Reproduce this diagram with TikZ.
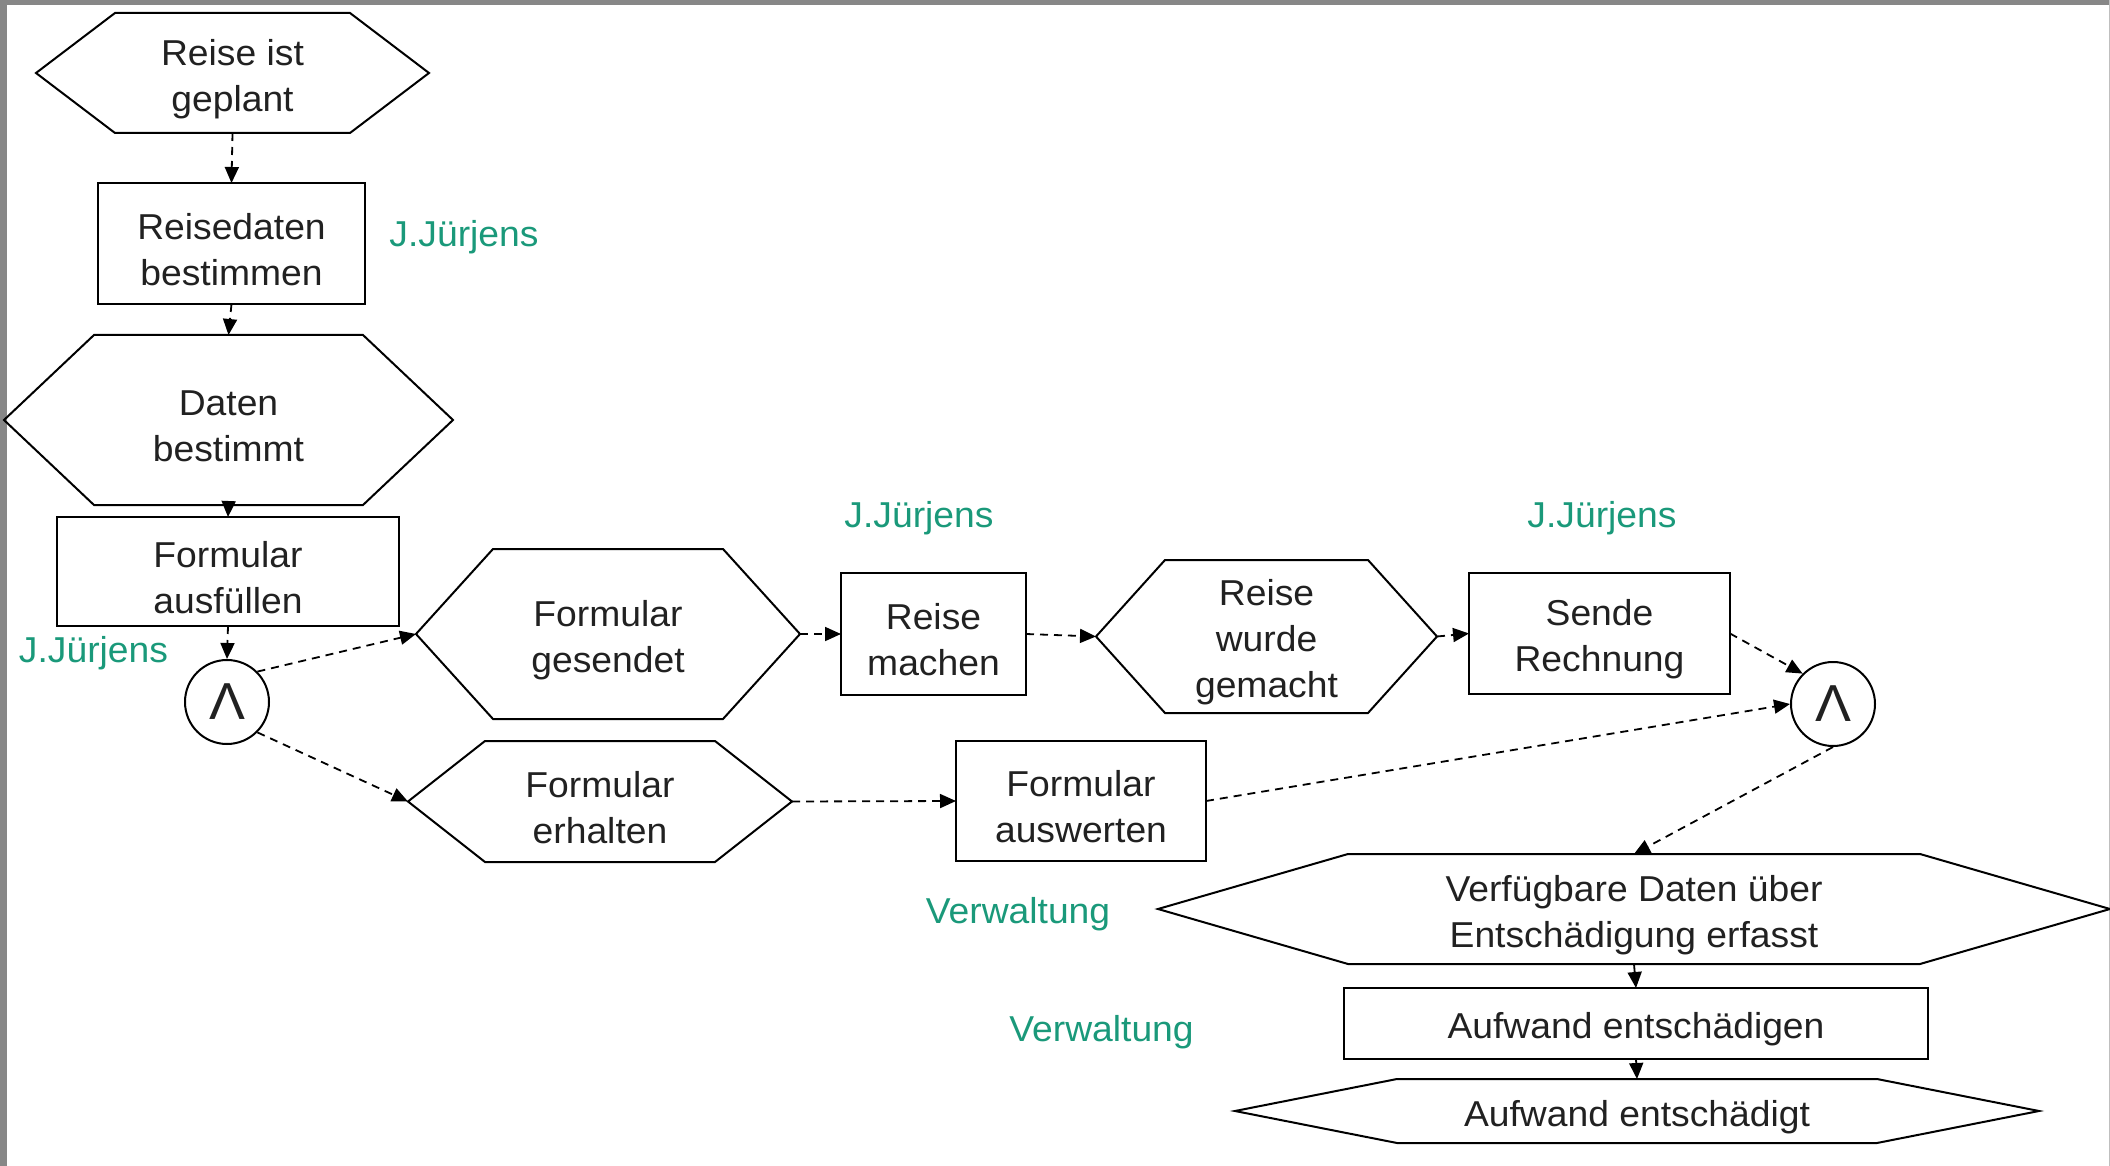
\documentclass[tikz,border=0pt]{standalone}
\usepackage{fontspec}
\setmainfont{Liberation Sans}[FakeStretch=1.035]
\usetikzlibrary{arrows.meta,calc}

\definecolor{jgruen}{RGB}{26,153,122}

% Rahmen eines Ereignisses (Sechseck) um einen benannten Knoten
\newcommand{\ereignisrand}[2]{%
  \draw[ereignisrahmen] ($(#1.north west)+(#2,0)$) -- ($(#1.north east)-(#2,0)$) -- (#1.east)
    -- ($(#1.south east)-(#2,0)$) -- ($(#1.south west)+(#2,0)$) -- (#1.west) -- cycle;}
% hebt die erste Zeile etwas an, damit der Text tiefer sitzt
\newcommand{\zs}{\rule{0pt}{19pt}}

\begin{document}
\begin{tikzpicture}[x=0.5pt,y=-0.5pt,
    every node/.style={font=\fontsize{18}{23}\selectfont, text=black!87},
    ereignisrahmen/.style={line width=1pt, draw=black},
    ereignis/.style={align=center, inner sep=0pt, outer sep=0pt},
    funktion/.style={draw=black, line width=1pt, align=center, inner sep=0pt, outer sep=0pt},
    verknuepfung/.style={circle, draw=black, line width=1pt, minimum size=42pt, inner sep=0pt,
      font=\fontsize{26}{30}\selectfont},
    rolle/.style={text=jgruen},
    fluss/.style={dash pattern=on 4pt off 3pt, line width=0.9pt, -{Triangle[length=8pt,width=7pt]}},
    fest/.style={line width=0.9pt, -{Triangle[length=8pt,width=7pt]}}]
    \useasboundingbox (0,0) rectangle (2110,1166);
    \fill[black!47] (0,0) rectangle (2110,5);
    \fill[black!47] (0,0) rectangle (7,1166);
    \draw[black!25] (2109,0) -- (2109,1166);

    % linke Spalte
    \node[ereignis, minimum width=196.5pt, minimum height=60pt] (geplant) at (232.5,73) {\zs Reise ist\\geplant};
    \ereignisrand{geplant}{79}
    \node[funktion, minimum width=133.5pt, minimum height=60.5pt] (bestimmen) at (231.5,243.5) {\zs Reisedaten\\bestimmen};
    \node[rolle] (rolle1) at (464,237) {J.Jürjens};
    \node[ereignis, minimum width=224.5pt, minimum height=85pt] (daten) at (228.5,420) {\zs Daten\\bestimmt};
    \ereignisrand{daten}{90}
    \node[funktion, minimum width=171pt, minimum height=54.5pt] (ausfuellen) at (228,571.5) {\zs Formular\\ausfüllen};
    \node[rolle] (rolle2) at (93.5,653) {J.Jürjens};
    \node[verknuepfung] (und1) at (227,702) {Λ};

    % oberer Zweig
    \node[ereignis, minimum width=192pt, minimum height=85pt] (gesendet) at (608,634) {\zs Formular\\gesendet};
    \ereignisrand{gesendet}{77}
    \node[funktion, minimum width=92.5pt, minimum height=61pt] (machen) at (933.5,634) {\zs Reise\\machen};
    \node[rolle] (rolle3) at (919,518) {J.Jürjens};
    \node[ereignis, minimum width=170.5pt, minimum height=76.5pt] (gemacht) at (1266.5,636.5) {\zs Reise\\wurde\\gemacht};
    \ereignisrand{gemacht}{69}
    \node[funktion, minimum width=130.5pt, minimum height=60.5pt] (sende) at (1599.5,633.5) {\zs Sende\\Rechnung};
    \node[rolle] (rolle4) at (1602,518) {J.Jürjens};

    % unterer Zweig
    \node[ereignis, minimum width=192pt, minimum height=60.5pt] (erhalten) at (600,801.5) {\zs Formular\\erhalten};
    \ereignisrand{erhalten}{77}
    \node[funktion, minimum width=125pt, minimum height=60pt] (auswerten) at (1081,801) {\zs Formular\\auswerten};
    \node[verknuepfung] (und2) at (1833,704) {Λ};

    % Abschluss
    \node[ereignis, minimum width=476pt, minimum height=55pt] (erfasst) at (1634,909) {\zs Verfügbare Daten über\\Entschädigung erfasst};
    \ereignisrand{erfasst}{190}
    \node[rolle] (rolle5) at (1018,914) {Verwaltung};
    \node[funktion, minimum width=292pt, minimum height=35.5pt] (entschaedigen) at (1636,1023.5) {\zs Aufwand entschädigen};
    \node[rolle] (rolle6) at (1101.5,1032) {Verwaltung};
    \node[ereignis, minimum width=402pt, minimum height=32pt] (entschaedigt) at (1637,1111) {\zs Aufwand entschädigt};
    \ereignisrand{entschaedigt}{162}

    \draw[fluss] (geplant.south) -- (bestimmen.north);
    \draw[fluss] (bestimmen.south) -- (daten.north);
    \draw[fest] (daten.south) -- (ausfuellen.north);
    \draw[fluss] (ausfuellen.south) -- (und1.north);
    \draw[fluss] (und1.north east) -- (gesendet.west);
    \draw[fluss] (und1.south east) -- (erhalten.west);
    \draw[fluss] (gesendet.east) -- (machen.west);
    \draw[fluss] (machen.east) -- (gemacht.west);
    \draw[fluss] (gemacht.east) -- (sende.west);
    \draw[fluss] (sende.east) -- (und2.north west);
    \draw[fluss] (erhalten.east) -- (auswerten.west);
    \draw[fluss] (auswerten.east) -- (und2.west);
    \draw[fluss] (und2.south) -- (erfasst.north);
    \draw[fest] (erfasst.south) -- (entschaedigen.north);
    \draw[fest] (entschaedigen.south) -- (entschaedigt.north);
\end{tikzpicture}
\end{document}
